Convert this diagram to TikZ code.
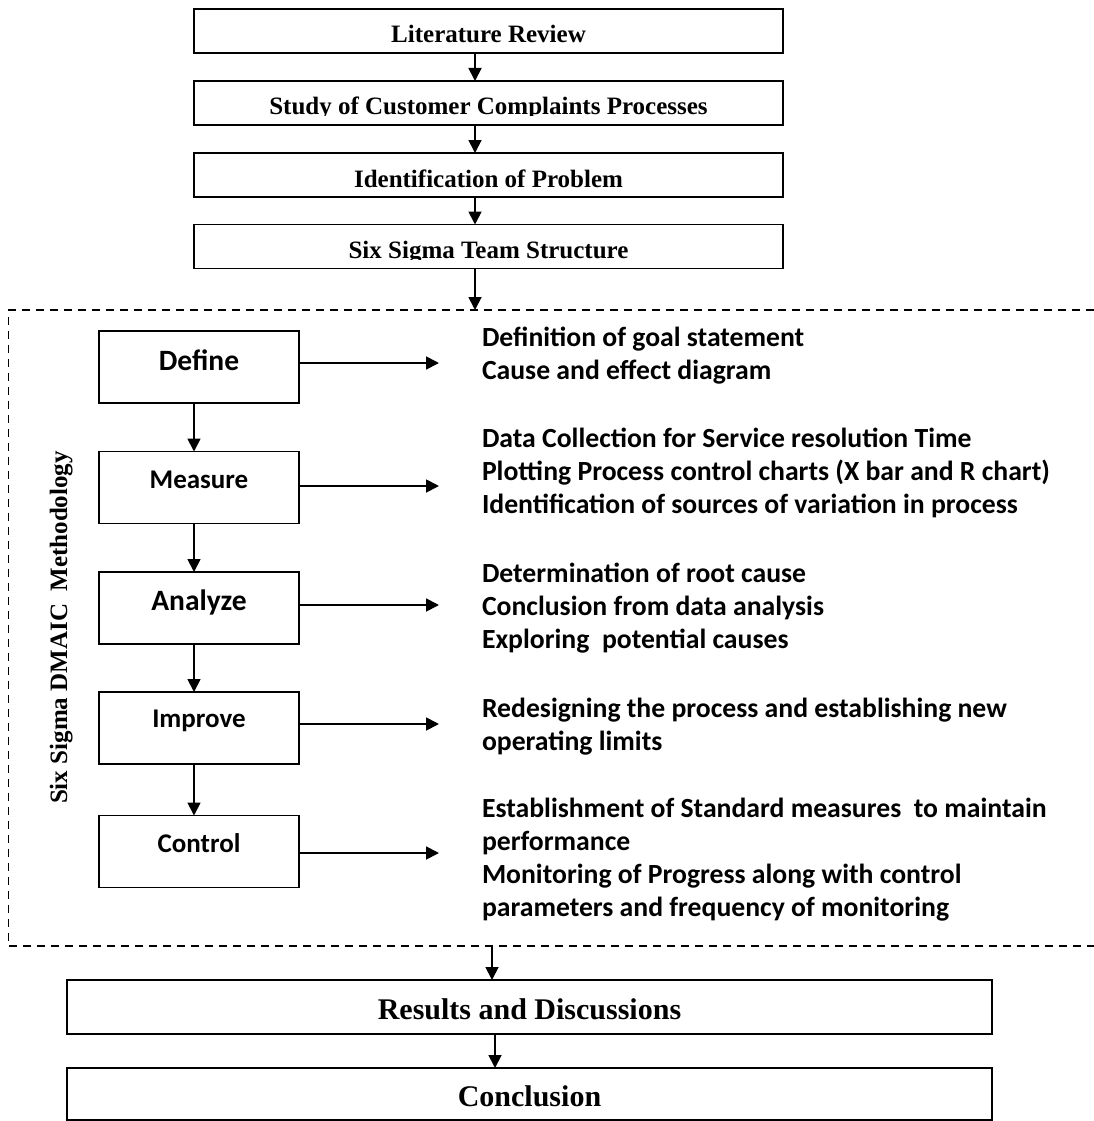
\documentclass[tikz,border=0pt]{standalone}
\usepackage{fontspec}
\setmainfont{Liberation Serif}
\newfontfamily\calibri{Carlito}
\usetikzlibrary{arrows.meta}

\begin{document}
\begin{tikzpicture}[x=1pt,y=-1pt,
  every node/.style={inner sep=0pt, outer sep=0pt},
  box/.style={draw, line width=1.5pt},
  topbox/.style={box, minimum width=589pt, minimum height=44pt},
  headtext/.style={anchor=base, font=\fontsize{25}{30}\selectfont\bfseries},
  stage/.style={box, minimum width=200pt, minimum height=72pt,
    font=\calibri\fontsize{27}{32}\selectfont\bfseries,
    text height=18pt, text depth=16pt},
  bigstage/.style={stage, font=\calibri\fontsize{29.5}{34}\selectfont\bfseries},
  desc/.style={anchor=base west, font=\calibri\fontsize{27.7}{33.3}\selectfont\bfseries},
  endbox/.style={box, minimum width=925pt, font=\fontsize{30}{36}\selectfont\bfseries,
    text height=24pt, text depth=0pt},
  arr/.style={line width=1.8pt, -{Triangle[length=13pt,width=13pt]}},
  frame/.style={line width=1.4pt, dash pattern=on 8pt off 6pt}
]
\useasboundingbox (0,0) rectangle (1093,1121);

% ---------- preparatory steps ----------
\node[topbox] (lit)   at (488.5,31)    {};
\node[topbox] (study) at (488.5,103)   {};
\node[topbox] (ident) at (488.5,175)   {};
\node[topbox] (team)  at (488.5,246.5) {};

% box captions sit low and are cut just under the baseline
\begin{scope}
  \clip (lit.north west) rectangle ([yshift=9pt]lit.south east);
  \node[headtext] (litT) at ([yshift=10pt]lit.south) {Literature Review};
\end{scope}
\begin{scope}
  \clip (study.north west) rectangle ([yshift=9pt]study.south east);
  \node[headtext] (studyT) at ([yshift=10pt]study.south) {Study of Customer Complaints Processes};
\end{scope}
\begin{scope}
  \clip (ident.north west) rectangle ([yshift=9pt]ident.south east);
  \node[headtext] (identT) at ([yshift=10pt]ident.south) {Identification of Problem};
\end{scope}
\begin{scope}
  \clip (team.north west) rectangle ([yshift=9pt]team.south east);
  \node[headtext] (teamT) at ([yshift=10pt]team.south) {Six Sigma Team Structure};
\end{scope}

\draw[arr] ([xshift=-13.5pt]lit.south)   -- ([xshift=-13.5pt]study.north);
\draw[arr] ([xshift=-13.5pt]study.south) -- ([xshift=-13.5pt]ident.north);
\draw[arr] ([xshift=-13.5pt]ident.south) -- ([xshift=-13.5pt]team.north);

% ---------- DMAIC frame ----------
\coordinate (fTR) at (1094,310);
\coordinate (fTL) at (8.5,310);
\coordinate (fBL) at (8.5,946);
\coordinate (fBR) at (1094,946);
\draw[frame] (fTR) -- (fTL) -- (fBL) -- (fBR);

\coordinate (fin) at (475,310);
\draw[arr] ([xshift=-13.5pt]team.south) -- (fin);

\node[rotate=90, anchor=base, font=\fontsize{25}{30}\selectfont\bfseries] (lbl)
  at (67,627.5) {Six Sigma DMAIC\ \ Methodology};

\node[bigstage, text height=20pt, text depth=14pt] (def) at (199,367) {Define};
\node[stage] (meas) at (199,487.5) {Measure};
\node[bigstage, text height=19pt, text depth=15pt] (ana) at (199,608) {Analyze};
\node[stage, text height=16pt, text depth=18pt] (imp) at (199,728) {Improve};
\node[stage] (con) at (199,851.5) {Control};

\draw[arr] ([xshift=-5pt]def.south)  -- ([xshift=-5pt]meas.north);
\draw[arr] ([xshift=-5pt]meas.south) -- ([xshift=-5pt]ana.north);
\draw[arr] ([xshift=-5pt]ana.south)  -- ([xshift=-5pt]imp.north);
\draw[arr] ([xshift=-5pt]imp.south)  -- ([xshift=-5pt]con.north);

% ---------- activities of each phase ----------
\node[desc] (dDef) at (482,346) {\parbox[t]{640pt}{%
  Definition of goal statement\\
  Cause and effect diagram}};
\node[desc] (dMeas) at (482,447) {\parbox[t]{640pt}{%
  Data Collection for Service resolution Time\\
  Plotting Process control charts (X bar and R chart)\\
  Identification of sources of variation in process}};
\node[desc] (dAna) at (482,582) {\parbox[t]{640pt}{%
  Determination of root cause\\
  Conclusion from data analysis\\
  Exploring~ potential causes}};
\node[desc] (dImp) at (482,717) {\parbox[t]{640pt}{%
  Redesigning the process and establishing new\\
  operating limits}};
\node[desc] (dCon) at (482,817) {\parbox[t]{640pt}{%
  Establishment of Standard measures~ to maintain\\
  performance\\
  Monitoring of Progress along with control\\
  parameters and frequency of monitoring}};

\coordinate (tip) at (439,0);
\draw[arr] ([yshift=4pt]def.east)    -- ([yshift=4pt]def.east -| tip);
\draw[arr] ([yshift=1.5pt]meas.east) -- ([yshift=1.5pt]meas.east -| tip);
\draw[arr] ([yshift=3pt]ana.east)    -- ([yshift=3pt]ana.east -| tip);
\draw[arr] ([yshift=4pt]imp.east)    -- ([yshift=4pt]imp.east -| tip);
\draw[arr] ([yshift=-1.5pt]con.east) -- ([yshift=-1.5pt]con.east -| tip);

% ---------- closing steps ----------
\node[endbox, minimum height=54pt] (res)  at (529.5,1007) {Results and Discussions};
\node[endbox, minimum height=52pt] (conc) at (529.5,1094) {Conclusion};

\coordinate (fout) at (492,946);
\draw[arr] (fout) -- (fout |- res.north);
\draw[arr] ([xshift=-34.5pt]res.south) -- ([xshift=-34.5pt]conc.north);
\end{tikzpicture}
\end{document}
